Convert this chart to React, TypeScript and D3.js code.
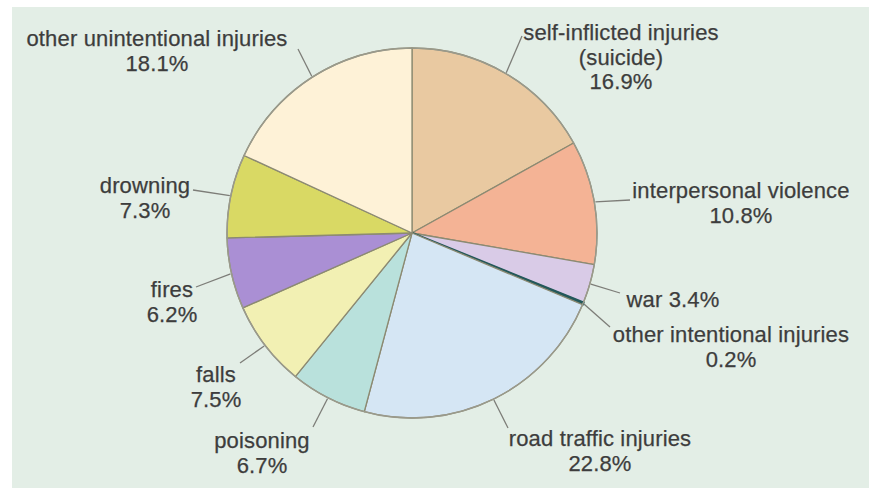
import * as d3 from "d3";

// share of injury deaths by cause, clockwise from 12 o'clock
const causes = [
  "self-inflicted injuries",
  "interpersonal violence",
  "war",
  "other intentional injuries",
  "road traffic injuries",
  "poisoning",
  "falls",
  "fires",
  "drowning",
  "other unintentional injuries",
];
const shares = [16.9, 10.8, 3.4, 0.2, 22.8, 6.7, 7.5, 6.2, 7.3, 18.1];
const colours = [
  "#e9c9a1",
  "#f4b395",
  "#d9cbe7",
  "#23585a",
  "#d5e6f4",
  "#b9e1dc",
  "#f2f0b3",
  "#aa8fd4",
  "#d9d964",
  "#fef2d7",
];
// label text lines (value line added from shares)
const labelLines = [
  ["self-inflicted injuries", "(suicide)"],
  ["interpersonal violence"],
  [],
  ["other intentional injuries"],
  ["road traffic injuries"],
  ["poisoning"],
  ["falls"],
  ["fires"],
  ["drowning"],
  ["other unintentional injuries"],
];
const inlineValue = [false, false, true, false, false, false, false, false, false, false];

// label layout: text centre x, first baseline y, leader end x, leader end y
const labelLayout = [
  [621, 40, 522, 36],
  [741, 198, 630, 200],
  [673, 307, 620, 293],
  [731, 342, 610, 327],
  [600, 446, 508, 428],
  [262, 448, 313, 427],
  [216, 382, 240, 363],
  [172, 297, 196, 287],
  [145, 193, 193, 190],
  [157, 46, 298, 49],
];

const width = 869;
const height = 488;
const cx = 412;
const cy = 233;
const radius = 185;
const lineGap = 24.5;

export default function App() {
  const pie = d3
    .pie<number>()
    .sort(null)
    .value((d) => d);
  const arcs = pie(shares);
  const arc = d3.arc<d3.PieArcDatum<number>>().innerRadius(0).outerRadius(radius);
  const edge = d3
    .arc<d3.PieArcDatum<number>>()
    .innerRadius(radius + 1)
    .outerRadius(radius + 1);

  return (
    <svg
      width={width}
      height={height}
      style={{ position: "absolute", left: 0, top: 0 }}
      fontFamily="'Liberation Sans', Arial, sans-serif"
    >
      <rect x={0} y={0} width={width} height={height} fill="#ffffff" />
      <rect x={12} y={7} width={width - 12} height={height - 7} fill="#e3eee6" />
      <g transform={`translate(${cx},${cy})`}>
        {arcs.map((a, i) => (
          <path
            key={causes[i]}
            d={arc(a) as string}
            fill={colours[i]}
            stroke={i === 3 ? "#23585a" : "#8c8a72"}
            strokeWidth={i === 3 ? 2.4 : 1.3}
            strokeLinejoin="round"
          />
        ))}
        <circle r={radius} fill="none" stroke="#9a9a8c" strokeWidth={1.4} />
      </g>
      {arcs.map((a, i) => {
        const mid = { ...a, startAngle: (a.startAngle + a.endAngle) / 2, endAngle: (a.startAngle + a.endAngle) / 2 };
        const [px, py] = edge.centroid(mid);
        const [tx, ty, lx, ly] = labelLayout[i];
        const value = `${shares[i].toFixed(1)}%`;
        const lines = inlineValue[i] ? [`${causes[i]} ${value}`] : [...labelLines[i], value];
        return (
          <g key={"lab" + i}>
            <line
              x1={cx + px}
              y1={cy + py}
              x2={lx}
              y2={ly}
              stroke="#7d7d78"
              strokeWidth={1.3}
            />
            <text
              x={tx}
              y={ty}
              textAnchor="middle"
              fontSize={22}
              letterSpacing={0.15}
              fill="#3d3d3d"
              stroke="#3d3d3d"
              strokeWidth={0.25}
            >
              {lines.map((t, j) => (
                <tspan key={j} x={tx} y={ty + j * lineGap}>
                  {t}
                </tspan>
              ))}
            </text>
          </g>
        );
      })}
    </svg>
  );
}
